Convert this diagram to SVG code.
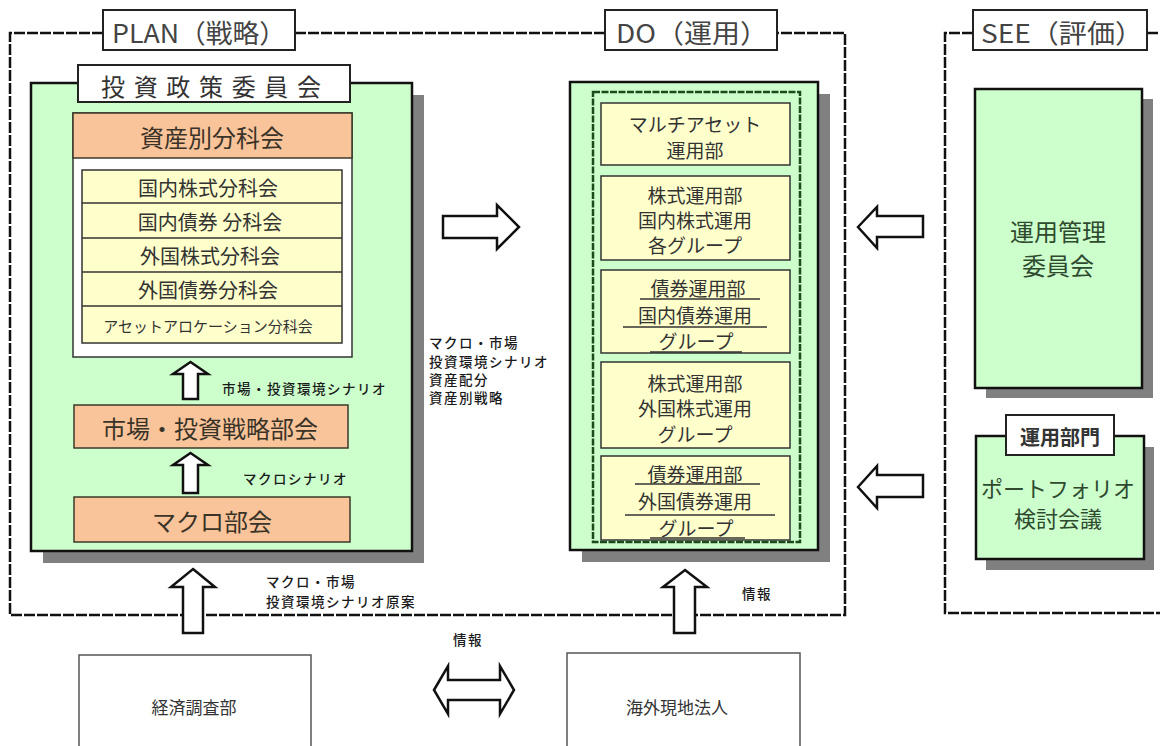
<svg xmlns="http://www.w3.org/2000/svg" width="1160" height="746" viewBox="0 0 1160 746">
<style>
text{font-family:"Noto Sans CJK JP","Noto Sans",sans-serif;fill:#333;}
.frame{fill:none;stroke:#111;stroke-width:2.5;stroke-dasharray:11 2;}
.lbl{fill:#fff;stroke:#222;stroke-width:2;}
.green{fill:#CCFFCC;stroke:#111;stroke-width:2.5;}
.shadow{fill:#808080;}
.orange{fill:#F9C49A;stroke:#3a3a2a;stroke-width:1.5;}
.yellow{fill:#FFFFCC;stroke:#333;stroke-width:1.5;}
.white{fill:#fff;stroke:#333;stroke-width:1.5;}
.arrow{fill:#fff;stroke:#111;stroke-width:2.5;stroke-linejoin:miter;}
.small{font-size:13.5px;fill:#1a1a1a;letter-spacing:1.5px;font-weight:500;}
.ul{stroke:#333;stroke-width:1.5;}
.do{font-size:19px;}
</style>

<g id="frames">
  <polyline class="frame" points="103,33 10,33 10,615 845,615 845,33 777,33"/>
  <line class="frame" x1="295" y1="33" x2="605" y2="33"/>
  <polyline class="frame" points="973,33 945,33 945,613 1160,613"/>
  <line class="frame" x1="1147" y1="33" x2="1160" y2="33"/>
</g>

<g id="plan-label">
  <rect class="lbl" x="103" y="10" width="192" height="40"/>
  <text x="199" y="31" font-size="26" text-anchor="middle" dominant-baseline="central" textLength="174" lengthAdjust="spacingAndGlyphs" style="fill:#444">PLAN（戦略）</text>
</g>
<g id="do-label">
  <rect class="lbl" x="605" y="10" width="172" height="40"/>
  <text x="692" y="31" font-size="26" text-anchor="middle" dominant-baseline="central" textLength="152" lengthAdjust="spacingAndGlyphs" style="fill:#444">DO（運用）</text>
</g>
<g id="see-label">
  <rect class="lbl" x="973" y="10" width="174" height="40"/>
  <text x="1062" y="31" font-size="26" text-anchor="middle" dominant-baseline="central" textLength="162" lengthAdjust="spacingAndGlyphs" style="fill:#444">SEE（評価）</text>
</g>

<g id="toushi-seisaku">
  <rect class="shadow" x="43" y="95" width="381" height="468"/>
  <rect class="green" x="31" y="83" width="381" height="468"/>
  <rect class="lbl" x="78" y="65" width="272" height="37"/>
  <text x="211" y="85" font-size="24" text-anchor="middle" dominant-baseline="central" textLength="220" lengthAdjust="spacing">投資政策委員会</text>
</g>

<g id="shisan-betsu">
  <rect class="white" x="73" y="113" width="279" height="244"/>
  <rect class="orange" x="73" y="113" width="279" height="45"/>
  <text x="212" y="136" font-size="24" text-anchor="middle" dominant-baseline="central" style="fill:#3a3328">資産別分科会</text>
  <rect class="yellow" x="82" y="170" width="260" height="173"/>
  <line class="ul" x1="82" y1="203" x2="342" y2="203"/>
  <line class="ul" x1="82" y1="238" x2="342" y2="238"/>
  <line class="ul" x1="82" y1="272" x2="342" y2="272"/>
  <line class="ul" x1="82" y1="306" x2="342" y2="306"/>
  <text x="208" y="187" font-size="20" text-anchor="middle" dominant-baseline="central">国内株式分科会</text>
  <text x="210" y="221" font-size="20" text-anchor="middle" dominant-baseline="central">国内債券 分科会</text>
  <text x="210" y="255" font-size="20" text-anchor="middle" dominant-baseline="central">外国株式分科会</text>
  <text x="208" y="289" font-size="20" text-anchor="middle" dominant-baseline="central">外国債券分科会</text>
  <text x="208" y="325" font-size="15" text-anchor="middle" dominant-baseline="central">アセットアロケーション分科会</text>
</g>

<g id="shijo-senryaku">
  <rect class="orange" x="74" y="405" width="274" height="43"/>
  <text x="210" y="427" font-size="24" text-anchor="middle" dominant-baseline="central" style="fill:#3a3328">市場・投資戦略部会</text>
</g>

<g id="macro-bukai">
  <rect class="orange" x="74" y="497" width="276" height="45"/>
  <text x="212" y="520" font-size="24" text-anchor="middle" dominant-baseline="central" style="fill:#3a3328">マクロ部会</text>
</g>

<g id="do-group">
  <rect class="shadow" x="582" y="94" width="248" height="468"/>
  <rect class="green" x="570" y="82" width="248" height="468"/>
  <rect x="593" y="92" width="207" height="450" fill="none" stroke="#1d4a1d" stroke-width="2.5" stroke-dasharray="7 1.5"/>
</g>

<g id="multi-asset">
  <rect class="yellow" x="601" y="103" width="189" height="62"/>
  <text class="do" x="695" y="123" text-anchor="middle" dominant-baseline="central">マルチアセット</text>
  <text class="do" x="695" y="149" text-anchor="middle" dominant-baseline="central">運用部</text>
</g>
<g id="kabu-kokunai">
  <rect class="yellow" x="601" y="176" width="189" height="84"/>
  <text class="do" x="695" y="194" text-anchor="middle" dominant-baseline="central">株式運用部</text>
  <text class="do" x="695" y="219" text-anchor="middle" dominant-baseline="central">国内株式運用</text>
  <text class="do" x="695" y="244" text-anchor="middle" dominant-baseline="central">各グループ</text>
</g>
<g id="saiken-kokunai">
  <rect class="yellow" x="601" y="270" width="189" height="83"/>
  <text class="do" x="698" y="287" text-anchor="middle" dominant-baseline="central">債券運用部</text>
  <line class="ul" x1="640" y1="299" x2="760" y2="299"/>
  <text class="do" x="695" y="314" text-anchor="middle" dominant-baseline="central">国内債券運用</text>
  <line class="ul" x1="623" y1="327" x2="767" y2="327"/>
  <text class="do" x="696" y="340" text-anchor="middle" dominant-baseline="central">グループ</text>
  <line class="ul" x1="650" y1="352" x2="742" y2="352"/>
</g>
<g id="kabu-gaikoku">
  <rect class="yellow" x="601" y="362" width="189" height="86"/>
  <text class="do" x="695" y="382" text-anchor="middle" dominant-baseline="central">株式運用部</text>
  <text class="do" x="695" y="407" text-anchor="middle" dominant-baseline="central">外国株式運用</text>
  <text class="do" x="695" y="433" text-anchor="middle" dominant-baseline="central">グループ</text>
</g>
<g id="saiken-gaikoku">
  <rect class="yellow" x="601" y="456" width="189" height="84"/>
  <text class="do" x="695" y="473" text-anchor="middle" dominant-baseline="central">債券運用部</text>
  <line class="ul" x1="635" y1="484" x2="760" y2="484"/>
  <text class="do" x="695" y="500" text-anchor="middle" dominant-baseline="central">外国債券運用</text>
  <line class="ul" x1="625" y1="515" x2="775" y2="515"/>
  <text class="do" x="696" y="527" text-anchor="middle" dominant-baseline="central">グループ</text>
  <line class="ul" x1="650" y1="538" x2="745" y2="538"/>
</g>

<g id="unyo-kanri">
  <rect class="shadow" x="986" y="99" width="167" height="299"/>
  <rect class="green" x="975" y="89" width="167" height="299"/>
  <text x="1058" y="230" font-size="24" text-anchor="middle" dominant-baseline="central" style="fill:#2f4a2f">運用管理</text>
  <text x="1058" y="264" font-size="24" text-anchor="middle" dominant-baseline="central" style="fill:#2f4a2f">委員会</text>
</g>

<g id="portfolio">
  <rect class="shadow" x="986" y="447" width="168" height="123"/>
  <rect class="green" x="976" y="436" width="168" height="123"/>
  <rect class="lbl" x="1006" y="415" width="108" height="40"/>
  <text x="1060" y="436" font-size="20" font-weight="bold" text-anchor="middle" dominant-baseline="central" style="fill:#333">運用部門</text>
  <text x="1058" y="487" font-size="22" text-anchor="middle" dominant-baseline="central" style="fill:#2f4a2f">ポートフォリオ</text>
  <text x="1058" y="517" font-size="22" text-anchor="middle" dominant-baseline="central" style="fill:#2f4a2f">検討会議</text>
</g>

<g id="keizai-chosa">
  <rect x="79" y="655" width="232" height="100" fill="#fff" stroke="#555" stroke-width="1.5"/>
  <text x="194" y="706" font-size="17" text-anchor="middle" dominant-baseline="central">経済調査部</text>
</g>

<g id="kaigai">
  <rect x="567" y="653" width="233" height="100" fill="#fff" stroke="#555" stroke-width="1.5"/>
  <text x="677" y="706" font-size="17" text-anchor="middle" dominant-baseline="central">海外現地法人</text>
</g>

<g id="connectors">
  <polygon class="arrow" points="190.5,362 208,374 198,374 198,399 183,399 183,374 173,374"/>
  <text class="small" x="222" y="388" dominant-baseline="central">市場・投資環境シナリオ</text>
  <polygon class="arrow" points="190.5,453 208,465 198,465 198,493 183,493 183,465 173,465"/>
  <text class="small" x="243" y="478" dominant-baseline="central">マクロシナリオ</text>
  <polygon class="arrow" points="193,569 215,587 203,587 203,633 183,633 183,587 171,587"/>
  <text class="small" x="266" y="581" dominant-baseline="central">マクロ・市場</text>
  <text class="small" x="266" y="601" dominant-baseline="central">投資環境シナリオ原案</text>
  <polygon class="arrow" points="685,570 707,587 695,587 695,633 674,633 674,587 663,587"/>
  <text class="small" x="742" y="593" dominant-baseline="central">情報</text>
  <polygon class="arrow" points="443,216 497,216 497,205 519,227 497,249 497,238 443,238"/>
  <text class="small" x="429" y="342" dominant-baseline="central">マクロ・市場</text>
  <text class="small" x="429" y="361" dominant-baseline="central">投資環境シナリオ</text>
  <text class="small" x="429" y="379" dominant-baseline="central">資産配分</text>
  <text class="small" x="429" y="397" dominant-baseline="central">資産別戦略</text>
  <polygon class="arrow" points="858,227 877,207 877,216 923,216 923,237 877,237 877,248"/>
  <polygon class="arrow" points="858,487 877,466 877,475 923,475 923,497 877,497 877,508"/>
  <polygon class="arrow" points="434,690 448,666 448,680 500,680 500,666 514,690 500,714 500,700 448,700 448,714"/>
  <text class="small" x="468" y="639" text-anchor="middle" dominant-baseline="central">情報</text>
</g>
</svg>
